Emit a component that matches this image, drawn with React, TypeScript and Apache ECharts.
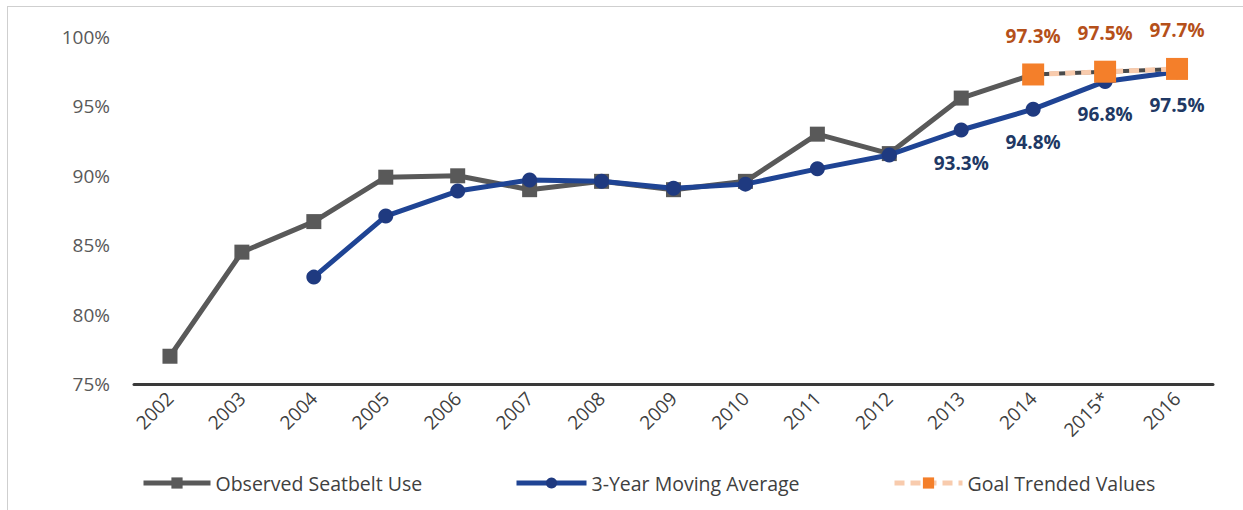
import React, { useEffect, useRef } from "react";
import * as echarts from "echarts";

const years = ["2002","2003","2004","2005","2006","2007","2008","2009","2010","2011","2012","2013","2014","2015*","2016"];
const observed = [77.0, 84.5, 86.7, 89.9, 90.0, 89.0, 89.6, 89.0, 89.6, 93.0, 91.6, 95.6, 97.3, null, null];
const movingAvg = [null, null, 82.7, 87.1, 88.9, 89.7, 89.6, 89.1, 89.4, 90.5, 91.5, 93.3, 94.8, 96.8, 97.5];
const goal = [null, null, null, null, null, null, null, null, null, null, null, null, 97.3, 97.5, 97.7];
const maLabeledFrom = 11;
const yTicks = [75, 80, 85, 90, 95, 100];

export default function App() {
  const ref = useRef<HTMLDivElement>(null);
  useEffect(() => {
    const chart = echarts.init(ref.current!, null, { renderer: "svg" });
    const font = "Open Sans";
    chart.setOption({
      animation: false,
      backgroundColor: "#ffffff",
      textStyle: { fontFamily: font },
      grid: { left: 134, right: 30, top: 37, bottom: 126, containLabel: false },
      xAxis: {
        type: "category",
        data: years,
        boundaryGap: true,
        axisLine: { lineStyle: { color: "#3a3a3a", width: 3 } },
        axisTick: { show: false },
        axisLabel: { rotate: 45, color: "#404040", fontSize: 19, margin: 11, fontFamily: font },
      },
      yAxis: {
        type: "value",
        min: yTicks[0],
        max: yTicks[yTicks.length - 1],
        interval: 5,
        axisLine: { show: false },
        axisTick: { show: false },
        splitLine: { show: false },
        axisLabel: { color: "#595959", fontSize: 19, margin: 24, formatter: (v: number) => v + "%", fontFamily: font },
      },
      legend: [
        {
          data: ["Observed Seatbelt Use"],
          left: 136, top: 468, itemWidth: 67, itemHeight: 14,
          lineStyle: { width: 5 },
          textStyle: { color: "#404040", fontSize: 19.5, fontFamily: font },
        },
        {
          data: ["3-Year Moving Average"],
          left: 509, top: 468, itemWidth: 70, itemHeight: 14,
          lineStyle: { width: 5 },
          textStyle: { color: "#404040", fontSize: 19.5, fontFamily: font },
        },
        {
          data: ["Goal Trended Values"],
          left: 887, top: 468, itemWidth: 68, itemHeight: 14,
          lineStyle: { width: 5 },
          textStyle: { color: "#404040", fontSize: 19.5, fontFamily: font },
        },
      ],
      series: [
        {
          name: "Observed Seatbelt Use",
          type: "line",
          data: observed,
          symbol: "rect",
          symbolSize: 15,
          itemStyle: { color: "#595959" },
          lineStyle: { color: "#595959", width: 5 },
          z: 2,
        },
        {
          name: "goalUnder",
          type: "line",
          data: goal,
          symbol: "none",
          lineStyle: { color: "#4a4a4a", width: 4 },
          z: 2,
        },
        {
          name: "3-Year Moving Average",
          type: "line",
          data: movingAvg,
          symbol: "circle",
          symbolSize: 15,
          itemStyle: { color: "#1f3a80" },
          lineStyle: { color: "#1f4494", width: 5 },
          label: {
            show: true,
            position: "bottom",
            distance: 16,
            color: "#203864",
            fontWeight: "bold",
            fontSize: 19,
            fontFamily: font,
            formatter: (p: any) => (p.dataIndex >= maLabeledFrom ? p.value.toFixed(1) + "%" : ""),
          },
          z: 3,
        },
        {
          name: "Goal Trended Values",
          type: "line",
          data: goal,
          symbol: "rect",
          symbolSize: 22,
          itemStyle: { color: "#f47f2a" },
          lineStyle: { color: "#f8cbad", width: 5, type: [10, 6] },
          label: {
            show: true,
            position: "top",
            distance: 18,
            color: "#b5501a",
            fontWeight: "bold",
            fontSize: 19,
            fontFamily: font,
            formatter: (p: any) => p.value.toFixed(1) + "%",
          },
          z: 4,
        },
      ],
      graphic: [
        { type: "line", shape: { x1: 7, y1: 6.5, x2: 1243, y2: 6.5 }, style: { stroke: "#cfcfcf", lineWidth: 1 } },
        { type: "line", shape: { x1: 7.5, y1: 6, x2: 7.5, y2: 510 }, style: { stroke: "#cfcfcf", lineWidth: 1 } },
      ],
    });
    return () => chart.dispose();
  }, []);
  return <div ref={ref} style={{ position: "fixed", left: 0, top: 0, width: 1243, height: 510 }} />;
}
